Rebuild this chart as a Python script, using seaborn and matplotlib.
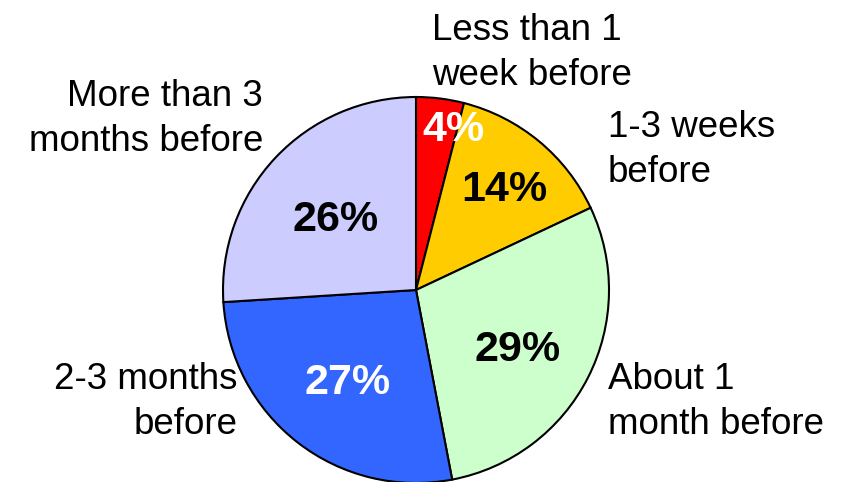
import matplotlib
matplotlib.use("Agg")
import matplotlib.pyplot as plt
import seaborn as sns
from matplotlib.patches import Arc

sns.set_style("white")
plt.rcParams['font.family'] = ['Liberation Sans', 'DejaVu Sans']

# data
labels = ["Less than 1\nweek before", "1-3 weeks\nbefore", "About 1\nmonth before",
          "2-3 months\nbefore", "More than 3\nmonths before"]
shares = [4, 14, 29, 27, 26]
colors = ["#FF0000", "#FFCC00", "#CCFFCC", "#3366FF", "#CCCCFF"]
pct_colors = ["white", "black", "black", "white", "black"]

W, H = 852, 482
cx, cy, r = 416, 290, 193

fig = plt.figure(figsize=(W / 100, H / 100), dpi=100)
ax = fig.add_axes([0, 0, 1, 1])
ax.pie(shares, colors=colors, startangle=90, counterclock=False,
       wedgeprops=dict(edgecolor="black", linewidth=1.5))
ax.set_xlim(-cx / r, (W - cx) / r)
ax.set_ylim(-(H - cy) / r, cy / r)
ax.set_aspect("equal")
ax.axis("off")


def fpos(x, y):
    return x / W, 1 - y / H


# category labels (pixel positions, alignment)
label_pos = [(432, 53, "left"), (608, 150, "left"), (608, 402, "left"),
             (238, 402, "right"), (263, 119, "right")]
for lab, (x, y, ha) in zip(labels, label_pos):
    fx, fy = fpos(x, y)
    fig.text(fx, fy, lab, ha=ha, va="center", fontsize=26.5, linespacing=1.4,
             color="black")

# percentage labels
pct_pos = [(453, 130), (504, 190), (518, 350), (348, 383), (336, 220)]
for s, c, (x, y) in zip(shares, pct_colors, pct_pos):
    fx, fy = fpos(x, y)
    fig.text(fx, fy, f"{s}%", ha="center", va="center", fontsize=31,
             fontweight="bold", color=c)

# partial logo swoosh in the corner
logo_ax = fig.add_axes([0, 0, 1, 1], facecolor="none")
logo_ax.set_xlim(0, W)
logo_ax.set_ylim(H, 0)
logo_ax.axis("off")
logo_ax.add_patch(Arc((790, 520), 170, 110, theta1=35, theta2=150,
                      color="#9a9a9a", linewidth=3))

fig.savefig("out.png", dpi=100)
